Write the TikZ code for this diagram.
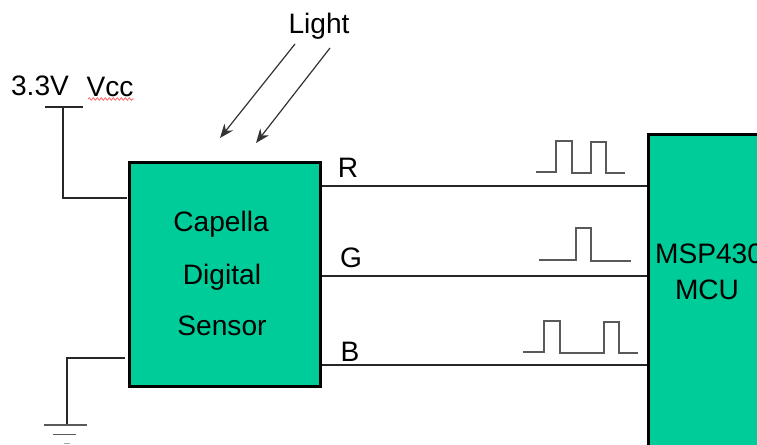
\documentclass[tikz,border=0pt]{standalone}
\usepackage{fontspec}
\setmainfont{Liberation Sans}
\usetikzlibrary{arrows.meta,decorations.pathmorphing}
\definecolor{boxgreen}{HTML}{00CC99}
\tikzset{
    block/.style={draw=black,line width=0.035cm,fill=boxgreen,inner sep=0pt},
    wire/.style={black!85,line width=0.011cm},
    pulse/.style={black!65,line width=0.016cm},
    ray/.style={black!80,line width=0.012cm,-{Stealth[length=0.14cm,width=0.11cm]}},
    lbl/.style={font=\fontsize{8pt}{9pt}\selectfont,text=black,inner sep=0pt},
}

\begin{document}
\begin{tikzpicture}
    \useasboundingbox (0,0) rectangle (7.57,4.44);
    \clip (0,0) rectangle (7.57,4.44);

    \node [ block,minimum width=1.91cm,minimum height=2.24cm ] (sensor) at (2.25,1.695) {};
    \node [ block,minimum width=1.5cm,minimum height=3.4cm,anchor=north west ] (mcu) at (6.465,3.115) {};

    \node [ lbl ] (light) at (3.19,4.18) {Light};
    \node [ lbl ] (volt) at (0.40,3.58) {3.3V};
    \node [ lbl ] (vcc) at (1.10,3.57) {Vcc};
    \node [ lbl ] (capella) at (2.21,2.20) {Capella};
    \node [ lbl ] (digital) at (2.22,1.67) {Digital};
    \node [ lbl ] (sens) at (2.22,1.18) {Sensor};
    \node [ lbl ] (msp) at (7.09,1.90) {MSP430};
    \node [ lbl ] (mculbl) at (7.07,1.54) {MCU};
    \node [ lbl ] (rlbl) at (3.48,2.76) {R};
    \node [ lbl ] (glbl) at (3.51,1.86) {G};
    \node [ lbl ] (blbl) at (3.50,0.92) {B};

    \draw [ red!60,line width=0.008cm,decorate,decoration={snake,amplitude=0.012cm,segment length=0.04cm} ] (0.88,3.45) -- (1.34,3.45);

    \coordinate (ray1a) at (2.95,4.00); \coordinate (ray1b) at (2.20,3.06);
    \coordinate (ray2a) at (3.30,3.96); \coordinate (ray2b) at (2.56,3.01);
    \draw [ ray ] (ray1a) -- (ray1b);
    \draw [ ray ] (ray2a) -- (ray2b);

    \coordinate (rwire) at (4.00,2.58);
    \coordinate (gwire) at (4.00,1.68);
    \coordinate (bwire) at (4.00,0.79);
    \draw [ wire ] (sensor.east |- rwire) -- (mcu.west |- rwire);
    \draw [ wire ] (sensor.east |- gwire) -- (mcu.west |- gwire);
    \draw [ wire ] (sensor.east |- bwire) -- (mcu.west |- bwire);

    \coordinate (vcctop) at (0.63,3.37); \coordinate (vccin) at (1.27,2.46);
    \draw [ wire ] (0.45,3.37) -- (0.83,3.37);
    \draw [ wire ] (vcctop) |- (vccin);

    \coordinate (gndin) at (1.25,0.86); \coordinate (gndtop) at (0.67,0.19);
    \draw [ wire ] (gndin) -| (gndtop);
    \draw [ pulse ] (0.44,0.19) -- (0.87,0.19);
    \draw [ pulse ] (0.53,0.095) -- (0.76,0.095);
    \draw [ pulse,black!35 ] (0.64,0.005) -- (0.70,0.005);

    \draw [ pulse ] (5.36,2.72) -- (5.56,2.72) -- (5.56,3.03) -- (5.72,3.03) -- (5.72,2.71) -- (5.91,2.71) -- (5.91,3.02) -- (6.06,3.02) -- (6.06,2.71) -- (6.25,2.71);
    \draw [ pulse ] (5.39,1.84) -- (5.76,1.84) -- (5.76,2.16) -- (5.91,2.16) -- (5.91,1.83) -- (6.31,1.83);
    \draw [ pulse ] (5.23,0.92) -- (5.44,0.92) -- (5.44,1.23) -- (5.60,1.23) -- (5.60,0.91) -- (6.04,0.91) -- (6.04,1.22) -- (6.19,1.22) -- (6.19,0.91) -- (6.38,0.91);
\end{tikzpicture}
\end{document}
